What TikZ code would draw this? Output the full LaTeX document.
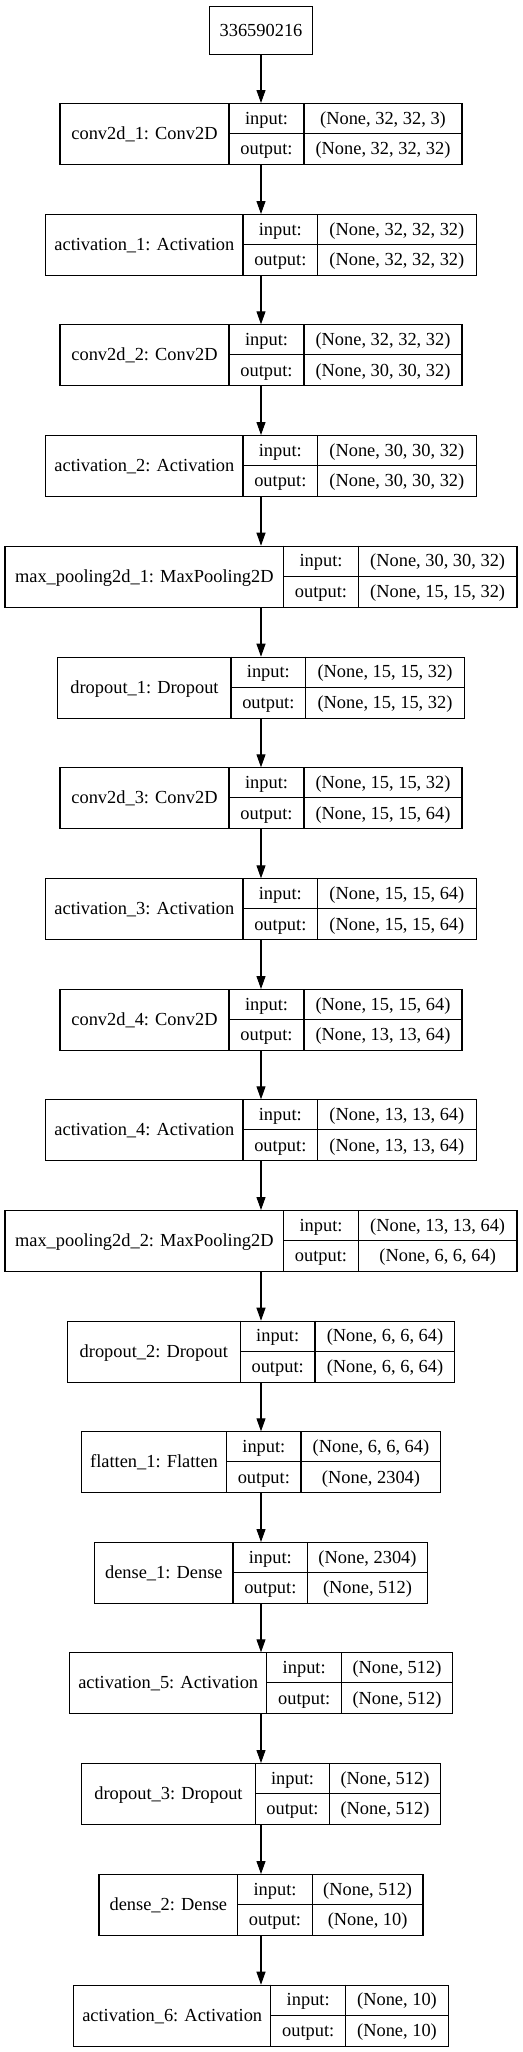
\documentclass[tikz,border=0pt]{standalone}
\usepackage{fontspec}
\setmainfont{Liberation Serif}
\usetikzlibrary{arrows.meta}
\tikzset{
  lbox/.style={draw, line width=0.8pt, inner sep=0pt, minimum height=45.75pt, anchor=north},
  txt/.style={font=\fontsize{13.8}{16}\selectfont, inner sep=0pt, anchor=base},
  arr/.style={-{Triangle[length=9.75pt,width=6.75pt]}, line width=0.8pt},
  sep/.style={line width=0.8pt},
}
% #1 name, #2 top, #3 left, #4 div1, #5 div2, #6 right, #7 label, #8 input, #9 output
\newcommand\kerlayer[9]{%
  \node[lbox, minimum width={(#6-#3)*0.75pt}] (#1) at (261,#2) {};
  \draw[sep] (#4,#2) -- (#4,#2+61) (#5,#2) -- (#5,#2+61) (#4,#2+30.5) -- (#6,#2+30.5);
  \node[txt] (#1-lab) at ({(#3+#4)/2},#2+36.5) {#7};
  \node[txt] (#1-in) at ({(#4+#5)/2},#2+21.25) {input:};
  \node[txt] (#1-out) at ({(#4+#5)/2},#2+51.75) {output:};
  \node[txt] (#1-inv) at ({(#5+#6)/2},#2+21.25) {#8};
  \node[txt] (#1-outv) at ({(#5+#6)/2},#2+51.75) {#9};
}
\begin{document}
\begin{tikzpicture}[x=0.75pt,y=-0.75pt]
\useasboundingbox (0,0) rectangle (523,2052);
\node[draw, line width=0.8pt, inner sep=0pt, minimum width=77.25pt, minimum height=36pt, anchor=north,
      font=\fontsize{13.8}{16}\selectfont] (top) at (261,6) {336590216};
\kerlayer{c1}{103}{60}{229}{304}{462}{conv2d\_1: Conv2D}{(None, 32, 32, 3)}{(None, 32, 32, 32)}
\kerlayer{a1}{214}{45.7}{243}{317.7}{476}{activation\_1: Activation}{(None, 32, 32, 32)}{(None, 32, 32, 32)}
\kerlayer{c2}{324.3}{60}{229}{304}{462}{conv2d\_2: Conv2D}{(None, 32, 32, 32)}{(None, 30, 30, 32)}
\kerlayer{a2}{435}{45.7}{243}{317.7}{476}{activation\_2: Activation}{(None, 30, 30, 32)}{(None, 30, 30, 32)}
\kerlayer{m1}{545.7}{5}{283.7}{358.3}{517}{max\_pooling2d\_1: MaxPooling2D}{(None, 30, 30, 32)}{(None, 15, 15, 32)}
\kerlayer{d1}{656.7}{58}{231}{305.7}{464.3}{dropout\_1: Dropout}{(None, 15, 15, 32)}{(None, 15, 15, 32)}
\kerlayer{c3}{767.3}{60}{229}{304}{462}{conv2d\_3: Conv2D}{(None, 15, 15, 32)}{(None, 15, 15, 64)}
\kerlayer{a3}{878.3}{45.7}{243}{317.7}{476}{activation\_3: Activation}{(None, 15, 15, 64)}{(None, 15, 15, 64)}
\kerlayer{c4}{989}{60}{229}{304}{462}{conv2d\_4: Conv2D}{(None, 15, 15, 64)}{(None, 13, 13, 64)}
\kerlayer{a4}{1099.3}{45.7}{243}{317.7}{476}{activation\_4: Activation}{(None, 13, 13, 64)}{(None, 13, 13, 64)}
\kerlayer{m2}{1210}{5}{283.7}{358.3}{517}{max\_pooling2d\_2: MaxPooling2D}{(None, 13, 13, 64)}{(None, 6, 6, 64)}
\kerlayer{d2}{1320.7}{67.3}{240.3}{315}{455}{dropout\_2: Dropout}{(None, 6, 6, 64)}{(None, 6, 6, 64)}
\kerlayer{f1}{1431.3}{81.3}{226.7}{301}{441}{flatten\_1: Flatten}{(None, 6, 6, 64)}{(None, 2304)}
\kerlayer{e1}{1542}{94.7}{233}{307.7}{427.3}{dense\_1: Dense}{(None, 2304)}{(None, 512)}
\kerlayer{a5}{1652.3}{69.7}{266.7}{341.7}{452.3}{activation\_5: Activation}{(None, 512)}{(None, 512)}
\kerlayer{d3}{1763}{81.7}{255.3}{329.7}{440.3}{dropout\_3: Dropout}{(None, 512)}{(None, 512)}
\kerlayer{e2}{1874}{99}{237.7}{312.3}{423}{dense\_2: Dense}{(None, 512)}{(None, 10)}
\kerlayer{a6}{1984.7}{73.7}{270.7}{345.7}{448.3}{activation\_6: Activation}{(None, 10)}{(None, 10)}
\foreach \a/\b in {top/c1,c1/a1,a1/c2,c2/a2,a2/m1,m1/d1,d1/c3,c3/a3,a3/c4,c4/a4,a4/m2,m2/d2,d2/f1,f1/e1,e1/a5,a5/d3,d3/e2,e2/a6}
  \draw[arr] (\a.south) -- (\b.north);
\end{tikzpicture}
\end{document}
